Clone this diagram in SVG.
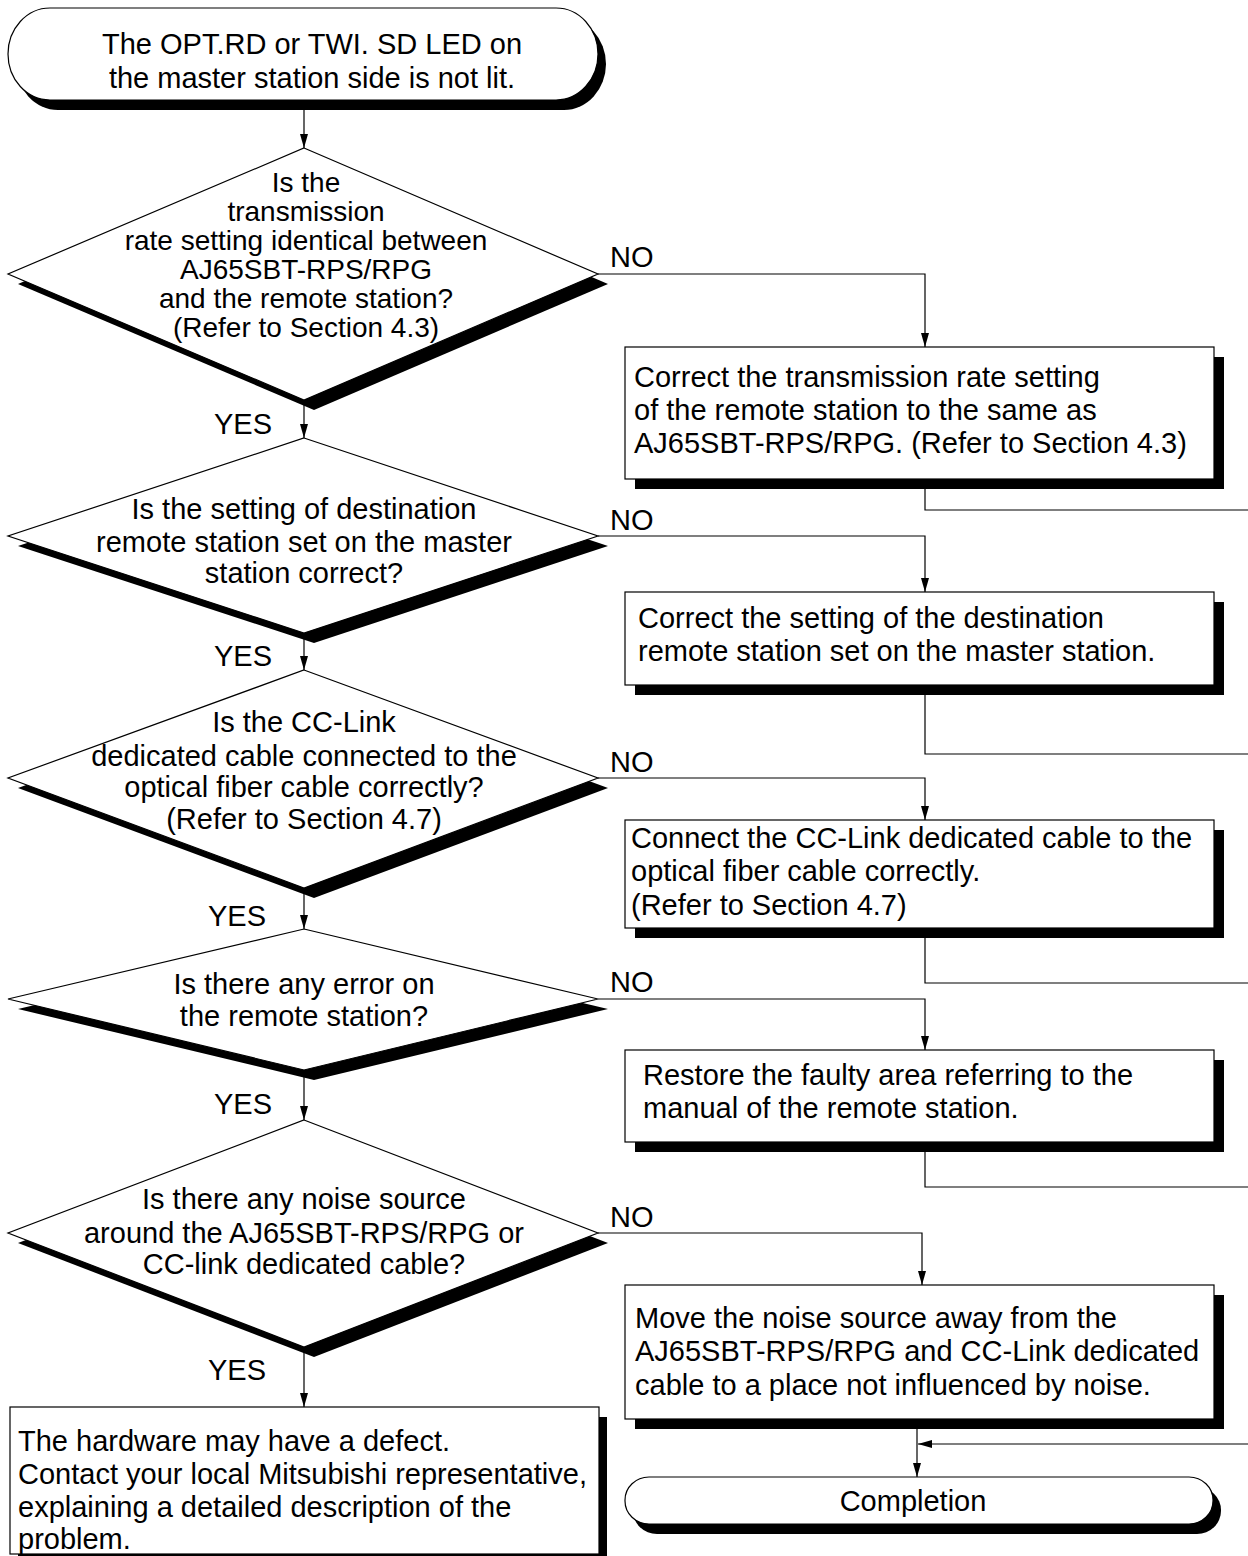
<svg xmlns="http://www.w3.org/2000/svg" width="1248" height="1556" viewBox="0 0 1248 1556">
<defs>
<style>
.t{font-family:"Liberation Sans",Arial,sans-serif;font-size:29px;fill:#000}
.q1{font-size:28px}
.c{text-anchor:middle}
.box{fill:#fff;stroke:#000;stroke-width:1.2}
.sh{fill:#000;stroke:none}
.ln{fill:none;stroke:#000;stroke-width:1.2}
</style>
<marker id="ah" markerWidth="14" markerHeight="8" refX="14" refY="4" orient="auto" markerUnits="userSpaceOnUse" viewBox="0 0 14 8">
<path d="M0,0 L14,4 L0,8 Z" fill="#000"/>
</marker>
</defs>
<rect width="1248" height="1556" fill="#fff"/>

<g id="connectors">
<line class="ln" x1="304" y1="100" x2="304" y2="148" marker-end="url(#ah)"/>
<line class="ln" x1="304" y1="400" x2="304" y2="438" marker-end="url(#ah)"/>
<line class="ln" x1="304" y1="633" x2="304" y2="670" marker-end="url(#ah)"/>
<line class="ln" x1="304" y1="888" x2="304" y2="929" marker-end="url(#ah)"/>
<line class="ln" x1="304" y1="1070" x2="304" y2="1120" marker-end="url(#ah)"/>
<line class="ln" x1="304" y1="1347" x2="304" y2="1407" marker-end="url(#ah)"/>
<polyline class="ln" points="598,274 925,274 925,347" marker-end="url(#ah)"/>
<polyline class="ln" points="598,536 925,536 925,592" marker-end="url(#ah)"/>
<polyline class="ln" points="598,778 925,778 925,820" marker-end="url(#ah)"/>
<polyline class="ln" points="598,999 925,999 925,1050" marker-end="url(#ah)"/>
<polyline class="ln" points="598,1233 922,1233 922,1285" marker-end="url(#ah)"/>
<polyline class="ln" points="925,489 925,510 1248,510"/>
<polyline class="ln" points="925,695 925,754 1248,754"/>
<polyline class="ln" points="925,938 925,983 1248,983"/>
<polyline class="ln" points="925,1152 925,1187 1248,1187"/>
<line class="ln" x1="1248.7" y1="510" x2="1248.7" y2="1444"/>
<line class="ln" x1="1248" y1="1444" x2="918" y2="1444" marker-end="url(#ah)"/>
<line class="ln" x1="917" y1="1429" x2="917" y2="1477" marker-end="url(#ah)"/>
<text class="t" x="610" y="267">NO</text>
<text class="t" x="610" y="530">NO</text>
<text class="t" x="610" y="772">NO</text>
<text class="t" x="610" y="992">NO</text>
<text class="t" x="610" y="1227">NO</text>
<text class="t" x="214" y="434">YES</text>
<text class="t" x="214" y="666">YES</text>
<text class="t" x="208" y="926">YES</text>
<text class="t" x="214" y="1114">YES</text>
<text class="t" x="208" y="1380">YES</text>
</g>

<g id="start">
<rect class="sh" x="16" y="18" width="590" height="92" rx="42" ry="46"/>
<rect class="box" x="8" y="8" width="590" height="92" rx="42" ry="46"/>
<text class="t c" x="312" y="54">The OPT.RD or TWI. SD LED on</text>
<text class="t c" x="312" y="88">the master station side is not lit.</text>
</g>

<g id="q1">
<polygon class="sh" points="314,158 608,284 314,410 18,284"/>
<polygon class="box" points="304,148 598,274 304,400 8,274"/>
<text class="t q1 c" x="306" y="192">Is the</text>
<text class="t q1 c" x="306" y="221">transmission</text>
<text class="t q1 c" x="306" y="250">rate setting identical between</text>
<text class="t q1 c" x="306" y="279">AJ65SBT-RPS/RPG</text>
<text class="t q1 c" x="306" y="308">and the remote station?</text>
<text class="t q1 c" x="306" y="337">(Refer to Section 4.3)</text>
</g>

<g id="a1">
<rect class="sh" x="635" y="357" width="589" height="132"/>
<rect class="box" x="625" y="347" width="589" height="132"/>
<text class="t" x="634" y="387">Correct the transmission rate setting</text>
<text class="t" x="634" y="420">of the remote station to the same as</text>
<text class="t" x="634" y="453">AJ65SBT-RPS/RPG. (Refer to Section 4.3)</text>
</g>

<g id="q2">
<polygon class="sh" points="314,448 608,546 314,643 18,546"/>
<polygon class="box" points="304,438 598,536 304,633 8,536"/>
<text class="t c" x="304" y="519">Is the setting of destination</text>
<text class="t c" x="304" y="552">remote station set on the master</text>
<text class="t c" x="304" y="583">station correct?</text>
</g>

<g id="a2">
<rect class="sh" x="635" y="602" width="589" height="93"/>
<rect class="box" x="625" y="592" width="589" height="93"/>
<text class="t" x="638" y="628">Correct the setting of the destination</text>
<text class="t" x="638" y="661">remote station set on the master station.</text>
</g>

<g id="q3">
<polygon class="sh" points="314,680 608,788 314,898 18,788"/>
<polygon class="box" points="304,670 598,778 304,888 8,778"/>
<text class="t c" x="304" y="732">Is the CC-Link</text>
<text class="t c" x="304" y="766">dedicated cable connected to the</text>
<text class="t c" x="304" y="797">optical fiber cable correctly?</text>
<text class="t c" x="304" y="829">(Refer to Section 4.7)</text>
</g>

<g id="a3">
<rect class="sh" x="635" y="830" width="589" height="108"/>
<rect class="box" x="625" y="820" width="589" height="108"/>
<text class="t" x="631" y="848">Connect the CC-Link dedicated cable to the</text>
<text class="t" x="631" y="881">optical fiber cable correctly.</text>
<text class="t" x="631" y="915">(Refer to Section 4.7)</text>
</g>

<g id="q4">
<polygon class="sh" points="314,939 608,1009 314,1080 18,1009"/>
<polygon class="box" points="304,929 598,999 304,1070 8,999"/>
<text class="t c" x="304" y="994">Is there any error on</text>
<text class="t c" x="304" y="1026">the remote station?</text>
</g>

<g id="a4">
<rect class="sh" x="635" y="1060" width="589" height="92"/>
<rect class="box" x="625" y="1050" width="589" height="92"/>
<text class="t" x="643" y="1085">Restore the faulty area referring to the</text>
<text class="t" x="643" y="1118">manual of the remote station.</text>
</g>

<g id="q5">
<polygon class="sh" points="314,1130 608,1243 314,1357 18,1243"/>
<polygon class="box" points="304,1120 598,1233 304,1347 8,1233"/>
<text class="t c" x="304" y="1209">Is there any noise source</text>
<text class="t c" x="304" y="1243">around the AJ65SBT-RPS/RPG or</text>
<text class="t c" x="304" y="1274">CC-link dedicated cable?</text>
</g>

<g id="a5">
<rect class="sh" x="635" y="1295" width="589" height="134"/>
<rect class="box" x="625" y="1285" width="589" height="134"/>
<text class="t" x="635" y="1328">Move the noise source away from the</text>
<text class="t" x="635" y="1361">AJ65SBT-RPS/RPG and CC-Link dedicated</text>
<text class="t" x="635" y="1395">cable to a place not influenced by noise.</text>
</g>

<g id="defect">
<rect class="sh" x="18" y="1417" width="589" height="147"/>
<rect class="box" x="10" y="1407" width="589" height="147"/>
<text class="t" x="18" y="1451">The hardware may have a defect.</text>
<text class="t" x="18" y="1484">Contact your local Mitsubishi representative,</text>
<text class="t" x="18" y="1517">explaining a detailed description of the</text>
<text class="t" x="18" y="1549">problem.</text>
</g>

<g id="end">
<rect class="sh" x="633" y="1487" width="588" height="47" rx="24" ry="23"/>
<rect class="box" x="625" y="1477" width="588" height="47" rx="24" ry="23"/>
<text class="t c" x="913" y="1511">Completion</text>
</g>
</svg>
